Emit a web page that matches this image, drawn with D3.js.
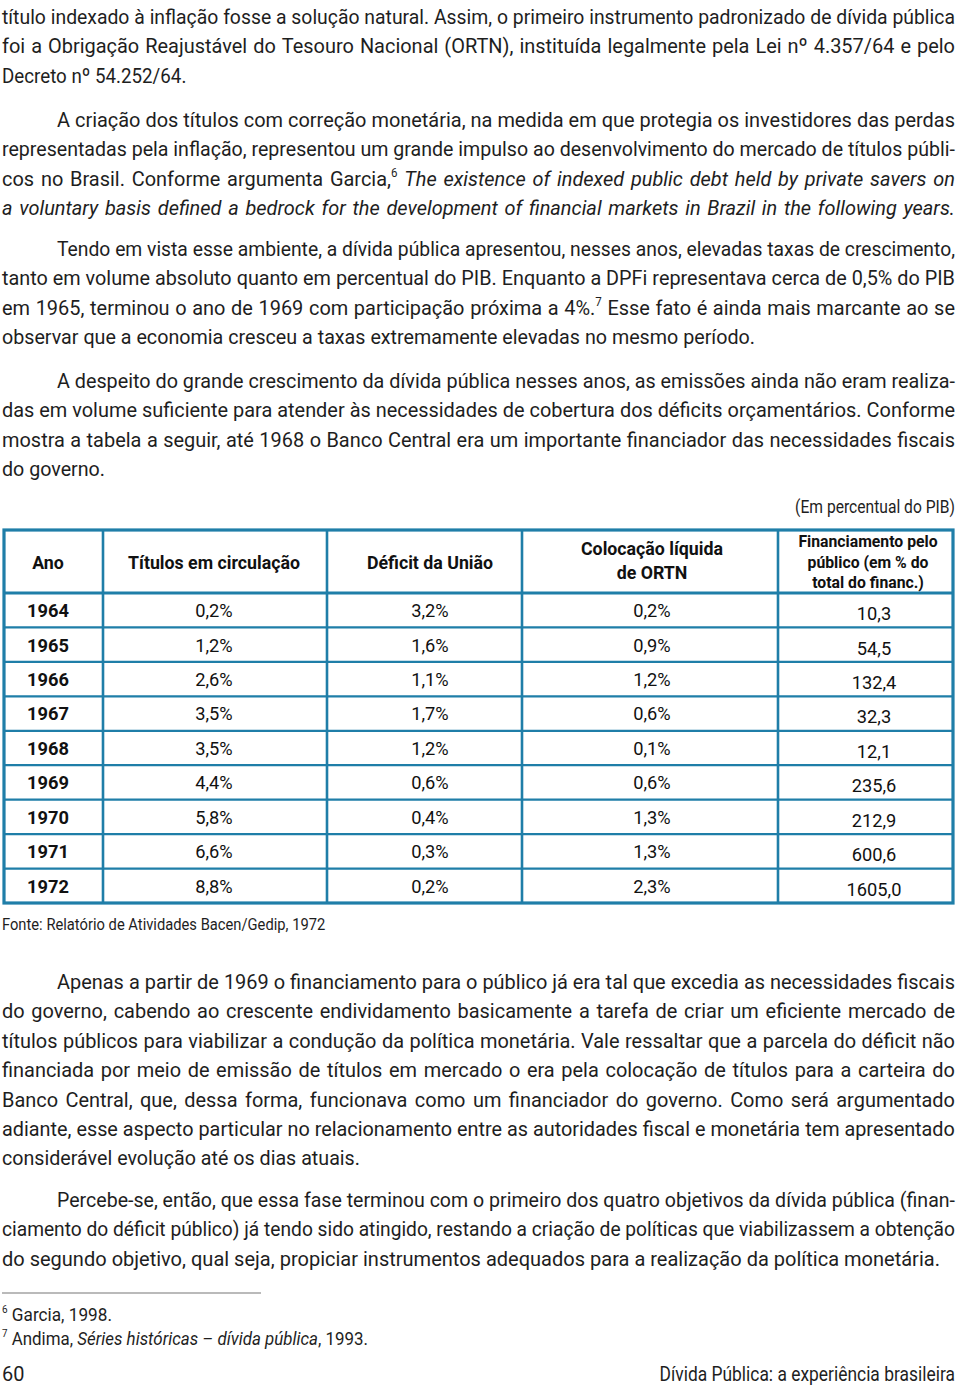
<!DOCTYPE html>
<html><head><meta charset="utf-8">
<script src="https://cdn.jsdelivr.net/npm/d3@7"></script>
<style>
html,body{margin:0;padding:0;background:#fff;}
svg{display:block;}
</style></head><body>
<svg id="page" width="960" height="1394"></svg>
<script>
// ---------------- DATA ----------------
const years = ["1964","1965","1966","1967","1968","1969","1970","1971","1972"];
const titulosCirculacao = [0.2, 1.2, 2.6, 3.5, 3.5, 4.4, 5.8, 6.6, 8.8];
const deficitUniao = [3.2, 1.6, 1.1, 1.7, 1.2, 0.6, 0.4, 0.3, 0.2];
const colocacaoORTN = [0.2, 0.9, 1.2, 0.6, 0.1, 0.6, 1.3, 1.3, 2.3];
const financiamentoPublico = [10.3, 54.5, 132.4, 32.3, 12.1, 235.6, 212.9, 600.6, 1605.0];
const columnHeaders = [
  ["Ano"],
  ["Títulos em circulação"],
  ["Déficit da União"],
  ["Colocação líquida", "de ORTN"],
  ["Financiamento pelo", "público (em % do", "total do financ.)"]
];
const tableUnit = "(Em percentual do PIB)";
const tableSource = "Fonte: Relatório de Atividades Bacen/Gedip, 1972";

const paragraphs = [
  ["título indexado à inflação fosse a solução natural. Assim, o primeiro instrumento padronizado de dívida pública",
   "foi a Obrigação Reajustável do Tesouro Nacional (ORTN), instituída legalmente pela Lei nº 4.357/64 e pelo",
   "Decreto nº 54.252/64."],
  ["A criação dos títulos com correção monetária, na medida em que protegia os investidores das perdas",
   "representadas pela inflação, representou um grande impulso ao desenvolvimento do mercado de títulos públi-",
   "cos no Brasil. Conforme argumenta Garcia,^6^ *The existence of indexed public debt held by private savers on*",
   "*a voluntary basis defined a bedrock for the development of financial markets in Brazil in the following years.*"],
  ["Tendo em vista esse ambiente, a dívida pública apresentou, nesses anos, elevadas taxas de crescimento,",
   "tanto em volume absoluto quanto em percentual do PIB. Enquanto a DPFi representava cerca de 0,5% do PIB",
   "em 1965, terminou o ano de 1969 com participação próxima a 4%.^7^ Esse fato é ainda mais marcante ao se",
   "observar que a economia cresceu a taxas extremamente elevadas no mesmo período."],
  ["A despeito do grande crescimento da dívida pública nesses anos, as emissões ainda não eram realiza-",
   "das em volume suficiente para atender às necessidades de cobertura dos déficits orçamentários. Conforme",
   "mostra a tabela a seguir, até 1968 o Banco Central era um importante financiador das necessidades fiscais",
   "do governo."],
  ["Apenas a partir de 1969 o financiamento para o público já era tal que excedia as necessidades fiscais",
   "do governo, cabendo ao crescente endividamento basicamente a tarefa de criar um eficiente mercado de",
   "títulos públicos para viabilizar a condução da política monetária. Vale ressaltar que a parcela do déficit não",
   "financiada por meio de emissão de títulos em mercado o era pela colocação de títulos para a carteira do",
   "Banco Central, que, dessa forma, funcionava como um financiador do governo. Como será argumentado",
   "adiante, esse aspecto particular no relacionamento entre as autoridades fiscal e monetária tem apresentado",
   "considerável evolução até os dias atuais."],
  ["Percebe-se, então, que essa fase terminou com o primeiro dos quatro objetivos da dívida pública (finan-",
   "ciamento do déficit público) já tendo sido atingido, restando a criação de políticas que viabilizassem a obtenção",
   "do segundo objetivo, qual seja, propiciar instrumentos adequados para a realização da política monetária."]
];
const footnotes = [
  "^6^ Garcia, 1998.",
  "^7^ Andima, *Séries históricas – dívida pública*, 1993."
];
const pageNumber = "60";
const runningTitle = "Dívida Pública: a experiência brasileira";

// ---------------- LAYOUT ----------------
const FONT = 'Roboto,"Open Sans","Noto Sans",sans-serif';
const TEXT = "#1e1e1e";
const BLUE = "#1f7ea8";
const BODY = 21, LEAD = 29.4;
const LEFT = 2, RIGHT = 955, INDENT = 57;
const paraTop = [24, 127, 256, 388, 989, 1207];
const paraIndent = [false, true, true, true, true, true];
const lastLineEnd = [152, 955, 755, 105, 360, 940];

const svg = d3.select("#page").style("font-family", FONT);
svg.append("rect").attr("width", 960).attr("height", 1394).attr("fill", "#fff");

const spaceCache = {};
function spaceWidth(size) {
  const k = String(size);
  if (spaceCache[k]) return spaceCache[k];
  const t = svg.append("text").attr("font-size", size);
  t.text("n n"); const a = t.node().getComputedTextLength();
  t.text("nn"); const b = t.node().getComputedTextLength();
  t.remove();
  return (spaceCache[k] = a - b);
}

function parseLine(str, state) {
  return str.split(" ").filter(w => w.length).map(w => {
    const segs = []; let buf = ""; let sup = false;
    const flush = () => { if (buf) { segs.push({ text: buf, italic: state.italic, sup }); buf = ""; } };
    for (const ch of w) {
      if (ch === "*") { flush(); state.italic = !state.italic; }
      else if (ch === "^") { flush(); sup = !sup; }
      else buf += ch;
    }
    flush();
    return segs;
  });
}

// Lays out a line of words between x0 and x1.
// justify: word gaps stretch (glyphs compressed by at most opt.kMax)
// otherwise: uniform horizontal scale to fit, clamped at opt.kMin; opt.right keeps the right edge.
function drawLine(parent, str, x0, x1, y, size, state, opt = {}) {
  const tokens = parseLine(str, state);
  const g = parent.append("g");
  const nodes = tokens.map(segs => {
    const t = g.append("text").attr("y", y).attr("font-size", size).attr("fill", TEXT);
    segs.forEach(s => {
      const ts = t.append("tspan").text(s.text);
      if (s.italic) ts.attr("font-style", "italic");
      if (s.sup) ts.attr("font-size", size * 0.58).attr("dy", -size * 0.42);
    });
    return t;
  });
  const widths = nodes.map(t => t.node().getComputedTextLength());
  const sum = d3.sum(widths);
  const n = nodes.length;
  const sp = spaceWidth(size);
  const target = x1 - x0;
  const kNat = target / (sum + sp * Math.max(0, n - 1));
  let k, gap;
  if (opt.justify && n > 1) {
    k = Math.min(kNat, opt.kMax || 1);
    gap = (target / k - sum) / (n - 1);
  } else {
    k = opt.kMin ? Math.max(kNat, opt.kMin) : kNat;
    if (opt.kMaxFit) k = Math.min(k, opt.kMaxFit);
    gap = sp;
  }
  const total = (sum + gap * Math.max(0, n - 1)) * k;
  const sx = opt.right ? x1 - total : x0;
  let x = sx;
  nodes.forEach((t, i) => { t.attr("x", x); x += widths[i] + gap; });
  g.attr("transform", `translate(${sx},0) scale(${k},1) translate(${-sx},0)`);
  g.attr("data-k", k);
  return g;
}

// body condensation factor: median natural fit of full-width lines
const fitKs = [];
paragraphs.forEach((lines, p) => lines.forEach((ln, i) => {
  if (i < lines.length - 1) {
    const tmp = svg.append("g");
    const g = drawLine(tmp, ln, (i === 0 && paraIndent[p]) ? INDENT : LEFT, RIGHT, -100, BODY, { italic: false });
    fitKs.push(+g.attr("data-k"));
    tmp.remove();
  }
}));
const K_BODY = d3.median(fitKs);

// Paragraphs
const textG = svg.append("g").attr("class", "body-text");
paragraphs.forEach((lines, p) => {
  const state = { italic: false };
  lines.forEach((ln, i) => {
    const x0 = (i === 0 && paraIndent[p]) ? INDENT : LEFT;
    const last = i === lines.length - 1;
    const x1 = last ? lastLineEnd[p] : RIGHT;
    const justify = !last || p === 1;
    drawLine(textG, ln, x0, x1, paraTop[p] + i * LEAD, BODY, state,
      justify ? { justify: true, kMax: K_BODY } : { kMin: K_BODY * 0.94, kMaxFit: K_BODY * 1.04 });
  });
});

// ---------------- TABLE ----------------
const colKeys = ["ano", "titulos", "deficit", "colocacao", "financiamento"];
const colEdges = [4, 103, 327, 522, 778, 953];
const tableTop = 530, headBottom = 593, tableBottom = 903;

const rows = years.map((y, i) => ({
  ano: y,
  titulos: titulosCirculacao[i],
  deficit: deficitUniao[i],
  colocacao: colocacaoORTN[i],
  financiamento: financiamentoPublico[i]
}));

const yRow = d3.scaleBand().domain(years).range([headBottom, tableBottom]);
const xCell = d3.scaleOrdinal().domain(colKeys).range([48, 214, 430, 652, 874]);
const xHead = d3.scaleOrdinal().domain(colKeys).range([48, 214, 430, 652, 868]);

const ptBR = d3.formatLocale({ decimal: ",", thousands: ".", grouping: [3], currency: ["R$", ""] });
const f1 = ptBR.format(".1f");
const fmt = {
  ano: d => d,
  titulos: d => f1(d) + "%",
  deficit: d => f1(d) + "%",
  colocacao: d => f1(d) + "%",
  financiamento: d => f1(d)
};

const tbl = svg.append("g").attr("class", "table");

// table condensation factor from the widest single header line (172px wide in the original)
const probe = svg.append("text").attr("font-size", 18).attr("font-weight", "bold").text(columnHeaders[1][0]);
const K_TAB = 172 / probe.node().getComputedTextLength();
probe.remove();

function condensed(parent, x, y, k) {
  return parent.append("text").attr("transform", `translate(${x},${y}) scale(${k},1)`);
}

// unit label
drawLine(tbl, tableUnit, 808, RIGHT, 513, 17.5, { italic: false }, { right: true, kMin: K_BODY * 0.94 });

// header
const headSize = [18, 18, 18, 18, 16];
const headBase = { 1: [569], 2: [555, 579], 3: [547, 568, 588] };
colKeys.forEach((k, ci) => {
  const lines = columnHeaders[ci];
  const bases = headBase[lines.length];
  const t = condensed(tbl, xHead(k), 0, K_TAB).attr("text-anchor", "middle").attr("font-weight", "bold")
    .attr("font-size", headSize[ci]).attr("fill", "#111");
  lines.forEach((l, li) => t.append("tspan").attr("x", 0).attr("y", bases[li]).text(l));
});

// cells
const rowG = tbl.selectAll("g.row").data(rows).join("g").attr("class", "row");
rowG.selectAll("text").data(r => colKeys.map(k => ({ k, v: r[k], y: yRow(r.ano) }))).join("text")
  .attr("transform", d => `translate(${xCell(d.k)},${d.y + yRow.bandwidth() * 0.7 + (d.k === "financiamento" ? 3 : 0)}) scale(${K_TAB},1)`)
  .attr("text-anchor", "middle")
  .attr("font-size", 18.5)
  .attr("font-weight", d => d.k === "ano" ? "bold" : null)
  .attr("fill", "#111")
  .text(d => fmt[d.k](d.v));

// grid lines
tbl.selectAll("line.h").data(years).join("line").attr("class", "h")
  .attr("x1", colEdges[0]).attr("x2", colEdges[5])
  .attr("y1", d => yRow(d)).attr("y2", d => yRow(d))
  .attr("stroke", BLUE).attr("stroke-width", (d, i) => i === 0 ? 3 : 2.2);
tbl.selectAll("line.v").data(colEdges.slice(1, -1)).join("line").attr("class", "v")
  .attr("x1", d => d).attr("x2", d => d).attr("y1", tableTop).attr("y2", tableBottom)
  .attr("stroke", BLUE).attr("stroke-width", 2.6);
tbl.append("rect").attr("x", colEdges[0]).attr("y", tableTop)
  .attr("width", colEdges[5] - colEdges[0]).attr("height", tableBottom - tableTop)
  .attr("fill", "none").attr("stroke", BLUE).attr("stroke-width", 3.2);

// source
drawLine(svg, tableSource, LEFT, 325, 930, 16.5, { italic: false }, { kMin: K_BODY * 0.94 });

// ---------------- FOOTNOTES / FOOTER ----------------
svg.append("line").attr("x1", 2).attr("x2", 261).attr("y1", 1293).attr("y2", 1293)
  .attr("stroke", "#777").attr("stroke-width", 1.2);
const fnEnds = [112, 368];
const fnState = { italic: false };
footnotes.forEach((f, i) => drawLine(svg, f, LEFT, fnEnds[i], 1321 + i * 24, 18, fnState));

condensed(svg, LEFT, 1381, K_BODY).attr("font-size", 21).attr("fill", TEXT).text(pageNumber);
drawLine(svg, runningTitle, 675, RIGHT, 1381, 19.5, { italic: false }, { right: true, kMin: K_BODY * 0.94 });
</script>
</body></html>
